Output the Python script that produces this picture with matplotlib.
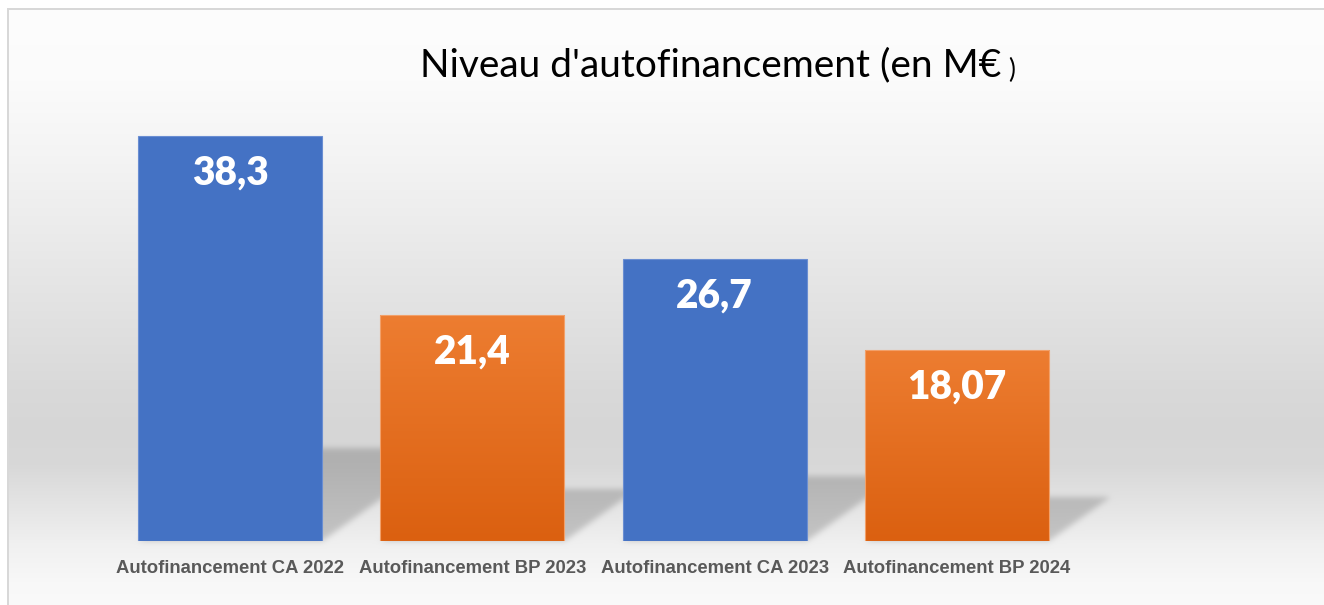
import numpy as np
import matplotlib
matplotlib.use("Agg")
import matplotlib.pyplot as plt

# ---------------- data ----------------
categories = ["Autofinancement CA 2022", "Autofinancement BP 2023",
              "Autofinancement CA 2023", "Autofinancement BP 2024"]
values = [38.3, 21.4, 26.7, 18.07]
value_labels = ["38,3", "21,4", "26,7", "18,07"]
kinds = ["CA", "BP", "CA", "BP"]
title_main = "Niveau d'autofinancement (en M€"
title_close = ")"

# ---------------- style ----------------
W, H = 1324, 605
BLUE = "#4472C4"
BLUE_EDGE = "#6A8ED2"
ORANGE_TOP = np.array([0xED, 0x7D, 0x31]) / 255
ORANGE_BOT = np.array([0xDB, 0x60, 0x10]) / 255
ORANGE_EDGE = "#F2A069"
TICK_COLOR = "#595959"

fig = plt.figure(figsize=(W / 100, H / 100), dpi=100)
bg_ax = fig.add_axes([0, 0, 1, 1])
bg_ax.set_axis_off()
bg_ax.set_zorder(0)

ax = fig.add_axes([109 / W, 64 / H, 969 / W, 476 / H])
ax.set_zorder(1)
ax.patch.set_alpha(0)
ax.set_xlim(-0.5, 3.5)
ax.set_ylim(0, 45)
for s in ax.spines.values():
    s.set_visible(False)
ax.set_yticks([])

bar_width = 0.76
xs = np.arange(len(values))

# ---------------- background gradient ----------------
stops_y = [0, 8, 80, 155, 233, 310, 388, 430, 465, 504, 543, 582, 605]
stops_v = [253, 253, 251, 244, 235, 226, 217, 214, 216, 228, 240, 248, 250]
yy = np.arange(H)
col = np.interp(yy, stops_y, stops_v) / 255.0
bg = np.repeat(col[:, None], W, axis=1)

# ---------------- perspective shadows (from bar geometry) ----------------
mask = np.zeros((H, W))
trans = ax.transData
for x, v in zip(xs, values):
    (xl, y0d), (xr, y1d) = trans.transform([(x - bar_width / 2, 0), (x + bar_width / 2, v)])
    y0 = H - y0d
    bar_h = y1d - y0d
    sh = 0.23 * bar_h
    dx = 1.4 * sh
    r0 = int(np.floor(y0 - sh))
    r1 = int(np.ceil(y0))
    for r in range(max(r0, 0), min(r1, H)):
        t = (y0 - (r + 0.5)) / sh
        if t < 0 or t > 1:
            continue
        a = xl + t * dx
        b = xr + t * dx
        ca = int(np.clip(round(a), 0, W))
        cb = int(np.clip(round(b), 0, W))
        mask[r, ca:cb] = 1.0


def blur(arr, sigma):
    rad = int(3 * sigma)
    k = np.exp(-0.5 * (np.arange(-rad, rad + 1) / sigma) ** 2)
    k /= k.sum()
    out = np.apply_along_axis(lambda m: np.convolve(m, k, mode="same"), 1, arr)
    out = np.apply_along_axis(lambda m: np.convolve(m, k, mode="same"), 0, out)
    return out


mask = blur(mask, 3.0)
bg = bg * (1 - 0.18 * mask)

# frame around chart area
bg[:8, :] = 1.0
bg[:, :7] = 1.0
bg[8:10, 7:] = 0.85
bg[8:, 7:9] = 0.85

rgb = np.dstack([bg, bg, bg])
bg_ax.imshow(rgb, extent=[0, W, H, 0], interpolation="bilinear", aspect="auto")
bg_ax.set_xlim(0, W)
bg_ax.set_ylim(H, 0)

# ---------------- bars ----------------
bars = ax.bar(xs, values, width=bar_width,
              color=[BLUE if k == "CA" else "none" for k in kinds],
              edgecolor=[BLUE_EDGE if k == "CA" else ORANGE_EDGE for k in kinds],
              linewidth=0.8, zorder=2)

grad = np.linspace(0, 1, 256)[:, None]
grad_rgb = ORANGE_BOT[None, None, :] * (1 - grad[:, :, None]) + ORANGE_TOP[None, None, :] * grad[:, :, None]
for bar, k in zip(bars, kinds):
    if k != "BP":
        continue
    x0 = bar.get_x()
    im = ax.imshow(grad_rgb, extent=[x0, x0 + bar.get_width(), 0, bar.get_height()],
                   origin="lower", aspect="auto", zorder=1.9, interpolation="bilinear")
    im.set_clip_path(bar)
ax.set_xlim(-0.5, 3.5)
ax.set_ylim(0, 45)

# value labels
for x, v, lab in zip(xs, values, value_labels):
    ax.annotate(lab, xy=(x, v), xytext=(0, -49), textcoords="offset pixels",
                ha="center", va="baseline", color="white", fontsize=28,
                fontweight="heavy", family=["Lato", "DejaVu Sans"], zorder=3)

# category labels
ax.set_xticks(xs)
ax.set_xticklabels(categories, fontsize=13.3, fontweight="bold", color=TICK_COLOR,
                   family=["Liberation Sans", "DejaVu Sans"])
ax.tick_params(axis="x", length=0, pad=14)

# ---------------- title ----------------
t1 = fig.text(420 / W, 1 - 76 / H, title_main, ha="left", va="baseline",
              fontsize=28, color="black", family=["Lato", "DejaVu Sans"])
fig.canvas.draw()
bb = t1.get_window_extent()
fig.text((bb.x1 + 7) / W, 1 - 78 / H, title_close, ha="left", va="baseline",
         fontsize=19, color="black", family=["Lato", "DejaVu Sans"])

fig.savefig("out.png", dpi=100)
